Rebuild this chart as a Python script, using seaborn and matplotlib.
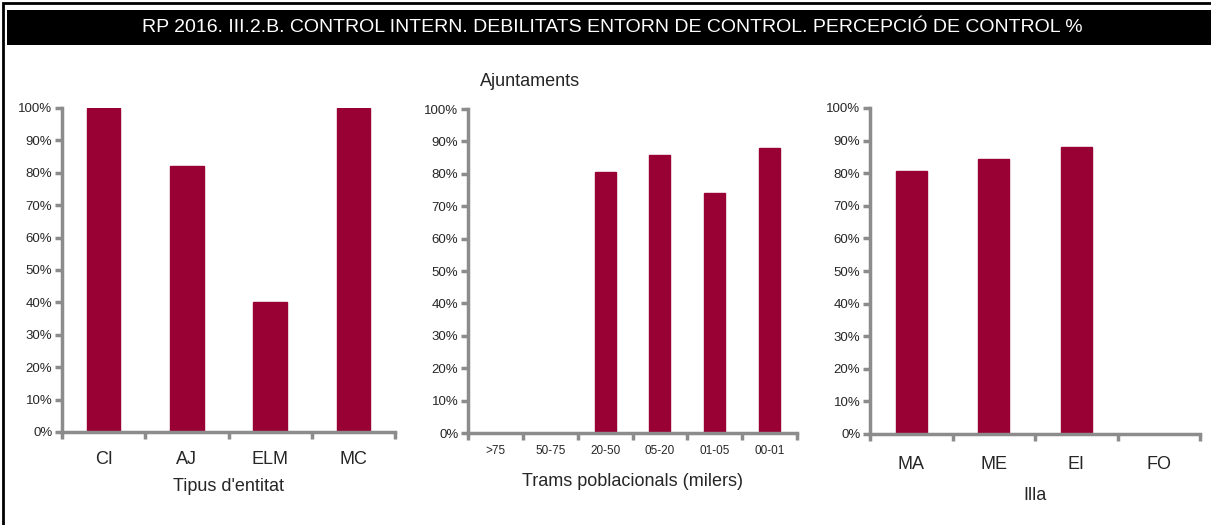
import matplotlib
matplotlib.use("Agg")
import matplotlib.pyplot as plt
import matplotlib.patches as mpatches
from matplotlib.ticker import PercentFormatter, FixedLocator
import seaborn as sns

# dades
tipus_cats = ["CI", "AJ", "ELM", "MC"]
tipus_vals = [1.00, 0.82, 0.40, 1.00]

trams_cats = [">75", "50-75", "20-50", "05-20", "01-05", "00-01"]
trams_vals = [0.0, 0.0, 0.807, 0.857, 0.740, 0.881]

illa_cats = ["MA", "ME", "EI", "FO"]
illa_vals = [0.808, 0.844, 0.880, 0.0]

titol = "RP 2016. III.2.B. CONTROL INTERN. DEBILITATS ENTORN DE CONTROL. PERCEPCIÓ DE CONTROL %"
bar_color = "#990033"
axis_gray = "#8c8c8c"

sns.set_style("white")
plt.rcParams['font.family'] = ['Liberation Sans Narrow', 'Liberation Sans', 'DejaVu Sans']

W, H = 1211, 525
fig = plt.figure(figsize=(W / 100, H / 100), dpi=100)


def px_axes(x0, y0, x1, y1):
    # coordenades en pixels (origen a dalt a l'esquerra)
    return fig.add_axes([x0 / W, 1 - y1 / H, (x1 - x0) / W, (y1 - y0) / H])


def draw_panel(ax, cats, vals, xlabel, xtick_size, tick_pad, xlabel_pad, width):
    sns.barplot(x=cats, y=vals, color=bar_color, width=width, ax=ax,
                saturation=1, edgecolor=bar_color)
    n = len(cats)
    ax.set_xlim(-0.5, n - 0.5)
    ax.set_ylim(0, 1)
    ax.yaxis.set_major_locator(FixedLocator([i / 10 for i in range(11)]))
    ax.yaxis.set_major_formatter(PercentFormatter(1.0, decimals=0))
    ax.xaxis.set_minor_locator(FixedLocator([i - 0.5 for i in range(n + 1)]))
    ax.tick_params(bottom=True, left=True, which="both")
    ax.tick_params(axis="x", which="major", length=0, labelsize=xtick_size, pad=tick_pad)
    ax.tick_params(axis="x", which="minor", length=5, width=2.5, color=axis_gray, direction="out")
    ax.tick_params(axis="y", which="major", length=5, width=2.5, color=axis_gray,
                   direction="out", labelsize=9.5, pad=2)
    for s in ["top", "right"]:
        ax.spines[s].set_visible(False)
    for s in ["left", "bottom"]:
        ax.spines[s].set_color(axis_gray)
        ax.spines[s].set_linewidth(2.5)
    ax.set_xlabel(xlabel, fontsize=13, labelpad=xlabel_pad)
    ax.set_ylabel("")
    ax.set_facecolor("none")


ax1 = px_axes(62, 108, 395, 432)
draw_panel(ax1, tipus_cats, tipus_vals, "Tipus d'entitat", 13, 14, 7, 0.4)

ax2 = px_axes(468, 109, 797, 433)
draw_panel(ax2, trams_cats, trams_vals, "Trams poblacionals (milers)", 8.5, 9, 11, 0.38)

ax3 = px_axes(870, 108, 1200, 434)
draw_panel(ax3, illa_cats, illa_vals, "Illa", 13, 16, 10, 0.38)

# títol "Ajuntaments"
fig.text(530 / W, 1 - 81 / H, "Ajuntaments", ha="center", va="center", fontsize=13)

# barra negra del títol
fig.patches.append(mpatches.Rectangle((7 / W, 1 - 45 / H), 1 - 7 / W, 35 / H,
                                      transform=fig.transFigure, facecolor="black",
                                      edgecolor="none", zorder=0))
fig.text(612 / W, 1 - 28 / H, titol, ha="center", va="center", fontsize=14, color="white")

# marc exterior
fig.patches.append(mpatches.Rectangle((3 / W, -0.01), 1.01, 1 - 3 / H + 0.01,
                                      transform=fig.transFigure, facecolor="none",
                                      edgecolor="black", linewidth=2))

fig.savefig("out.png", dpi=100)
